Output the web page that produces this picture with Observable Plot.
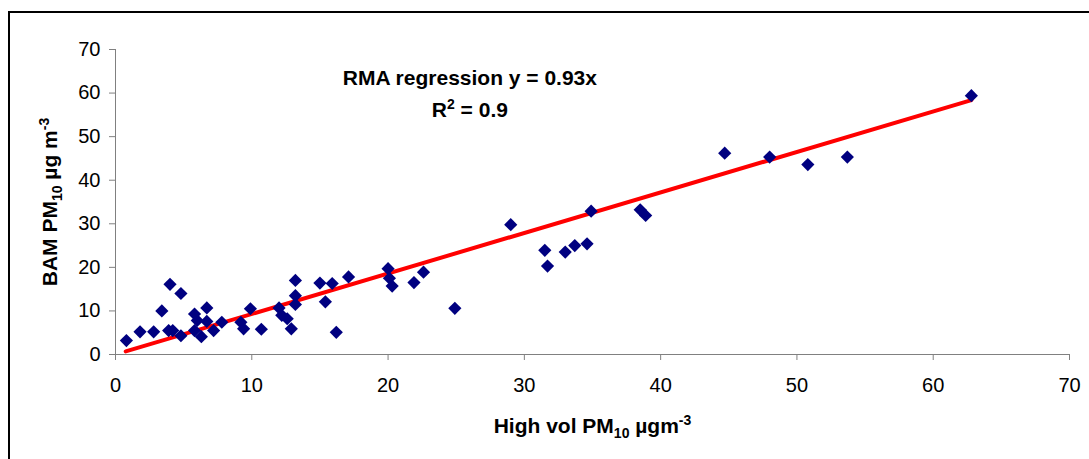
<!DOCTYPE html>
<html>
<head>
<meta charset="utf-8">
<script src="https://cdn.jsdelivr.net/npm/d3@7"></script>
<script src="https://cdn.jsdelivr.net/npm/@observablehq/plot@0.6"></script>
<style>
  html, body { margin: 0; padding: 0; background: #fff; overflow: hidden; }
  #wrap { position: relative; width: 1089px; height: 459px; overflow: hidden; }
  #frame { position: absolute; left: 8px; top: 11px; width: 2000px; height: 1000px;
           border-top: 2px solid #000; border-left: 2px solid #000; pointer-events: none; }
  #chart { position: absolute; left: 0; top: 0; }
</style>
</head>
<body>
<div id="wrap"><div id="chart"></div><div id="frame"></div></div>
<script>
// High vol PM10 (x) and BAM PM10 (y) values
const highVol = [0.8,1.8,2.8,3.4,4.0,4.8,3.9,4.2,4.8,5.8,6.0,5.8,6.3,6.7,6.7,7.2,7.8,9.2,9.4,9.9,10.7,12.0,12.2,12.6,12.9,13.2,13.2,13.2,15.0,15.4,15.9,16.2,17.1,20.0,20.1,20.3,21.9,22.6,24.9,29.0,31.5,31.7,33.0,33.7,34.6,34.9,38.5,38.9,44.7,48.0,50.8,53.7,62.8];
const bam     = [3.2,5.2,5.2,10.0,16.1,14.0,5.5,5.5,4.3,9.3,7.8,5.5,4.1,10.7,7.6,5.5,7.4,7.4,5.9,10.5,5.8,10.7,9.0,8.2,5.9,17.0,13.5,11.5,16.4,12.1,16.3,5.1,17.8,19.7,17.5,15.7,16.5,18.9,10.6,29.8,23.9,20.3,23.5,25.0,25.4,32.9,33.2,31.9,46.2,45.3,43.6,45.3,59.4];

// RMA regression line endpoints (y = 0.93x)
const regX = [0.75, 62.8];
const regY = [0.7, 58.4];

const xTicks = [0,10,20,30,40,50,60,70];
const yTicks = [0,10,20,30,40,50,60,70];

// Text content (segments: [text, "" | "sub" | "sup"])
const xTitleParts = [["High vol PM",""],["10","sub"],[" µgm",""],["-3","sup"]];
const yTitleParts = [["BAM PM",""],["10","sub"],[" µg m",""],["-3","sup"]];
const annot1Parts = [["RMA regression y = 0.93x",""]];
const annot2Parts = [["R",""],["2","sup"],[" = 0.9",""]];
const annotX = [26.0, 26.0];
const annotY = [63.5, 56.1];

const points = highVol.map((x, i) => ({x, y: bam[i]}));
const reg = regX.map((x, i) => ({x, y: regY[i]}));
const plain = parts => parts.map(p => p[0]).join("");

const diamond = {
  draw(ctx, size) {
    const h = Math.sqrt(size / Math.PI);
    ctx.moveTo(0, -h); ctx.lineTo(h, 0); ctx.lineTo(0, h); ctx.lineTo(-h, 0); ctx.closePath();
  }
};

const font = 'Arial, "Liberation Sans", Helvetica, sans-serif';

const chart = Plot.plot({
  width: 1089,
  height: 459,
  marginLeft: 115,
  marginRight: 20,
  marginTop: 49,
  marginBottom: 105,
  style: {fontFamily: font, fontSize: "20px", color: "#000", background: "transparent", overflow: "visible"},
  x: {domain: [0, 70]},
  y: {domain: [0, 70]},
  marks: [
    Plot.axisX({ticks: xTicks, tickSize: 6, tickPadding: 17, stroke: "#808080", fill: "#000", label: null, tickFormat: d => String(d), fontSize: 20}),
    Plot.axisY({ticks: yTicks, tickSize: 6, tickPadding: 9, stroke: "#808080", fill: "#000", label: null, tickFormat: d => String(d), fontSize: 20}),
    Plot.ruleY([0], {stroke: "#808080", strokeWidth: 1}),
    Plot.ruleX([0], {stroke: "#808080", strokeWidth: 1}),
    Plot.line(reg, {x: "x", y: "y", stroke: "#ff0000", strokeWidth: 4}),
    Plot.dot(points, {x: "x", y: "y", symbol: diamond, r: 6.6, fill: "#000080", stroke: null}),
    Plot.text([plain(annot1Parts)], {x: annotX[0], y: annotY[0], text: d => d, textAnchor: "middle", lineAnchor: "middle", fontWeight: "bold", fontSize: 21}),
    Plot.text([plain(annot2Parts)], {x: annotX[1], y: annotY[1], text: d => d, textAnchor: "middle", lineAnchor: "middle", fontWeight: "bold", fontSize: 21}),
    Plot.text([plain(xTitleParts)], {frameAnchor: "bottom", dy: 72, text: d => d, textAnchor: "middle", lineAnchor: "middle", fontWeight: "bold", fontSize: 21}),
    Plot.text([plain(yTitleParts)], {frameAnchor: "left", dx: -65, rotate: -90, text: d => d, textAnchor: "middle", lineAnchor: "middle", fontWeight: "bold", fontSize: 21})
  ]
});

function rich(parts) {
  const want = plain(parts);
  const t = Array.from(chart.querySelectorAll("text")).find(e => e.textContent === want);
  if (!t) return;
  while (t.firstChild) t.removeChild(t.firstChild);
  let shift = 0;
  for (const [s, kind] of parts) {
    const ts = document.createElementNS("http://www.w3.org/2000/svg", "tspan");
    const target = kind === "sub" ? 5 : kind === "sup" ? -8 : 0;
    const dy = target - shift;
    if (dy !== 0) ts.setAttribute("dy", dy);
    shift = target;
    if (kind) ts.setAttribute("font-size", 14);
    ts.textContent = s;
    t.appendChild(ts);
  }
}
rich(xTitleParts);
rich(yTitleParts);
rich(annot2Parts);

document.getElementById("chart").appendChild(chart);
</script>
</body>
</html>
